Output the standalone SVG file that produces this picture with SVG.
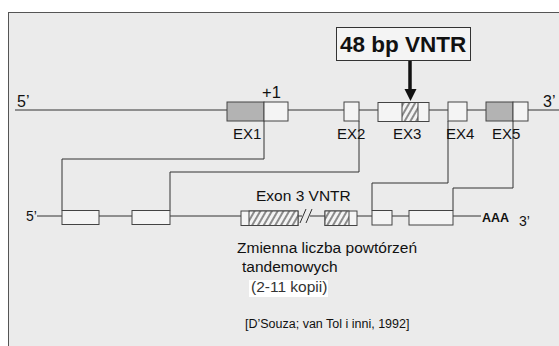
<svg xmlns="http://www.w3.org/2000/svg" width="559" height="346" viewBox="0 0 559 346">
<style>
text{font-family:"Liberation Sans",Arial,sans-serif;fill:#111}
.ex{fill:#f4f4f4;stroke:#444;stroke-width:1}
.gr{fill:#b3b3b3;stroke:#444;stroke-width:1}
.hb{fill:url(#hatch);stroke:#444;stroke-width:1}
.ln{fill:none;stroke:#333;stroke-width:1}
.lbl{font-size:15px}
</style>
<defs>
<pattern id="hatch" width="5" height="5" patternUnits="userSpaceOnUse" patternTransform="rotate(30)">
<rect width="5" height="5" fill="#f4f4f4"/>
<line x1="1" y1="0" x2="1" y2="5" stroke="#222" stroke-width="1"/>
</pattern>
</defs>
<rect x="0" y="0" width="559" height="346" fill="#ffffff"/>
<rect x="8.5" y="12.5" width="560" height="340" fill="#ebebeb" stroke="#555" stroke-width="1"/>

<g id="backbone">
<line class="ln" x1="15" y1="110" x2="559" y2="110"/>
<line class="ln" x1="37" y1="216" x2="302" y2="216"/>
<line class="ln" x1="310" y1="216" x2="481" y2="216"/>
<line class="ln" x1="300" y1="223" x2="306" y2="209"/>
<line class="ln" x1="306" y1="223" x2="312" y2="209"/>
<text x="17" y="107" font-size="16">5’</text>
<text x="543" y="107" font-size="16">3’</text>
<text x="26" y="221" font-size="14">5’</text>
<text x="482" y="222" font-size="12.5" font-weight="bold">AAA</text>
<text x="519" y="226" font-size="14">3’</text>
</g>

<g id="connectors">
<polyline class="ln" points="264,121 264,159 62,159 62,210.5"/>
<polyline class="ln" points="359,121 359,172 170,172 170,210.5"/>
<polyline class="ln" points="448,121 448,183 372,183 372,210.5"/>
<polyline class="ln" points="513,121 513,188 453,188 453,210.5"/>
<line x1="410" y1="61" x2="410" y2="90" stroke="#111" stroke-width="3.5"/>
<polygon points="404.5,89 416.5,89 410.5,101" fill="#111"/>
</g>

<g id="vntr-label">
<rect x="336.5" y="27.5" width="134" height="33" fill="#f4f4f4" stroke="#333" stroke-width="1"/>
<text x="340" y="52" font-size="22.5" font-weight="bold">48 bp VNTR</text>
</g>

<g id="ex1">
<rect class="gr" x="227" y="102" width="37" height="19"/>
<rect class="ex" x="264" y="102" width="24" height="19"/>
<text x="262" y="98" font-size="16.5">+1</text>
<text class="lbl" x="233" y="139">EX1</text>
</g>
<g id="ex2">
<rect class="ex" x="344" y="102" width="15" height="19"/>
<text class="lbl" x="337" y="139">EX2</text>
</g>
<g id="ex3">
<rect class="ex" x="378" y="102.5" width="51" height="19"/>
<rect class="hb" x="402" y="102.5" width="16" height="19"/>
<text class="lbl" x="393" y="139">EX3</text>
</g>
<g id="ex4">
<rect class="ex" x="448" y="102" width="19" height="19"/>
<text class="lbl" x="446" y="139">EX4</text>
</g>
<g id="ex5">
<rect class="gr" x="486" y="102" width="27" height="19"/>
<rect class="ex" x="513" y="102" width="15" height="19"/>
<text class="lbl" x="492" y="139">EX5</text>
</g>

<g id="m-ex1"><rect class="ex" x="62" y="210.5" width="37" height="14"/></g>
<g id="m-ex2"><rect class="ex" x="132" y="210.5" width="38" height="14"/></g>
<g id="m-ex3">
<rect class="ex" x="241" y="211" width="57" height="14.5"/>
<rect class="hb" x="249" y="211" width="49" height="14.5"/>
<rect class="ex" x="325" y="211" width="32" height="14.5"/>
<rect class="hb" x="325" y="211" width="24" height="14.5"/>
<text x="256" y="201" font-size="15.5">Exon 3 VNTR</text>
</g>
<g id="m-ex4"><rect class="ex" x="372" y="210.5" width="20" height="14.5"/></g>
<g id="m-ex5"><rect class="ex" x="409" y="210.5" width="44" height="14.5"/></g>

<g id="notes">
<text x="237" y="253" font-size="15.5">Zmienna liczba powtórzeń</text>
<text x="242" y="272" font-size="15.5">tandemowych</text>
<rect x="249" y="280" width="79" height="17" fill="#ffffff"/>
<text x="251" y="292" font-size="15.5" style="fill:#333">(2-11 kopii)</text>
<text x="245" y="328" font-size="12.5">[D’Souza; van Tol i inni, 1992]</text>
</g>
</svg>
